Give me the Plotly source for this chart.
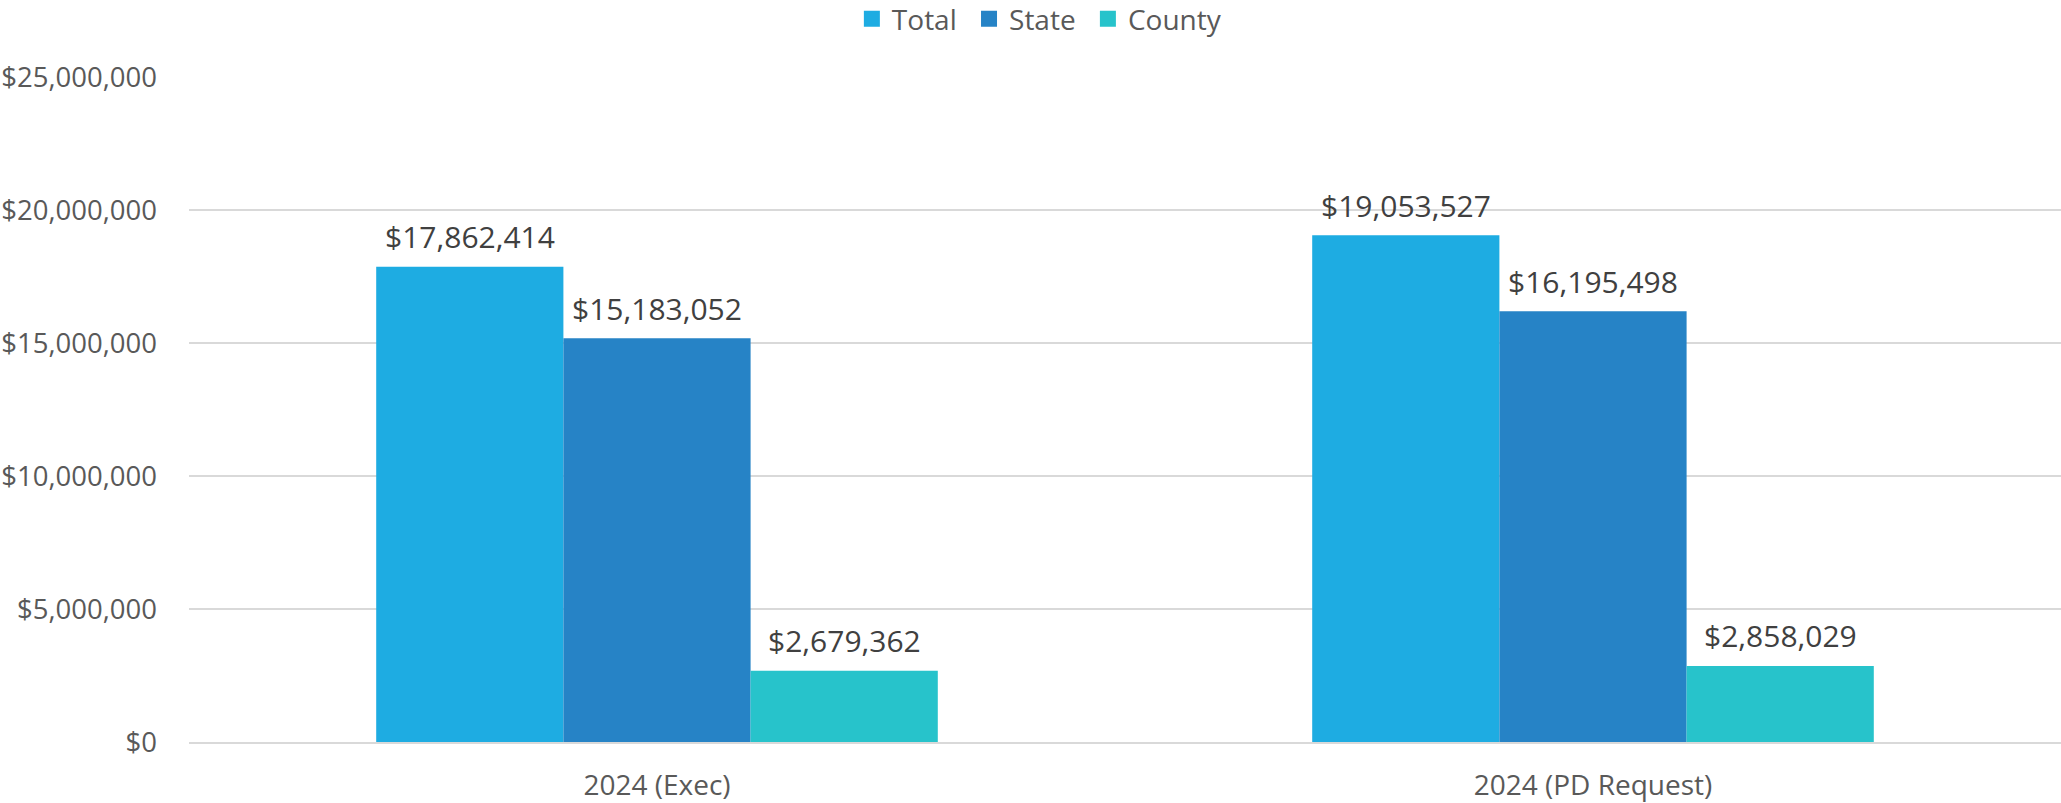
import plotly.graph_objects as go

categories = ["2024 (Exec)", "2024 (PD Request)"]
series_names = ["Total", "State", "County"]
total = [17862414, 19053527]
state = [15183052, 16195498]
county = [2679362, 2858029]
colors = ["#1EACE2", "#2683C6", "#27C3CB"]

FONT = "Open Sans"
BARGAP = 0.4
fig = go.Figure()
all_series = [total, state, county]
for name, vals, col in zip(series_names, all_series, colors):
    fig.add_trace(go.Bar(
        name=name, x=categories, y=vals, marker=dict(color=col, line=dict(width=0)),
        showlegend=False,
    ))
# legend-only entries with larger square swatches
for name, col in zip(series_names, colors):
    fig.add_trace(go.Scatter(
        name=name + "\u00a0", x=[None], y=[None], mode="markers",
        marker=dict(symbol="square", size=18, color=col), showlegend=True,
    ))

# data labels above each bar (positions derived from group layout)
n = len(all_series)
w = (1 - BARGAP) / n
for i, vals in enumerate(all_series):
    for j, v in enumerate(vals):
        fig.add_annotation(
            x=j - (1 - BARGAP) / 2 + w * (i + 0.5), y=v, xref="x", yref="y",
            text=f"${v:,.0f}", showarrow=False, yanchor="middle", yshift=30,
            font=dict(family=FONT, size=30, color="#404040"),
        )

fig.update_layout(
    width=2061, height=803,
    barmode="group", bargap=BARGAP, bargroupgap=0,
    plot_bgcolor="white", paper_bgcolor="white",
    margin=dict(l=189, r=0, t=77, b=61, autoexpand=False),
    font=dict(family=FONT, size=28, color="#595959"),
    legend=dict(orientation="h", xref="container", yref="container", x=0.506, xanchor="center",
                y=1 - 19 / 803, yanchor="middle", font=dict(family=FONT, size=28, color="#595959"),
                itemwidth=30, traceorder="normal"),
    showlegend=True,
)
fig.update_yaxes(range=[0, 25000000], dtick=5000000, tickprefix="$", tickformat=",d",
                 showgrid=True, gridcolor="#D9D9D9", gridwidth=2, zeroline=False,
                 showline=False, ticks="", ticklabelstandoff=31,
                 tickfont=dict(family=FONT, size=27.5, color="#595959"))
fig.update_xaxes(showline=True, linecolor="#D9D9D9", linewidth=2, ticks="",
                 ticklabelstandoff=17, tickfont=dict(family=FONT, size=28, color="#595959"))

fig.write_html("out.html", config={"displayModeBar": False},
               post_script="document.body.style.margin='0';document.body.style.overflow='hidden';")
